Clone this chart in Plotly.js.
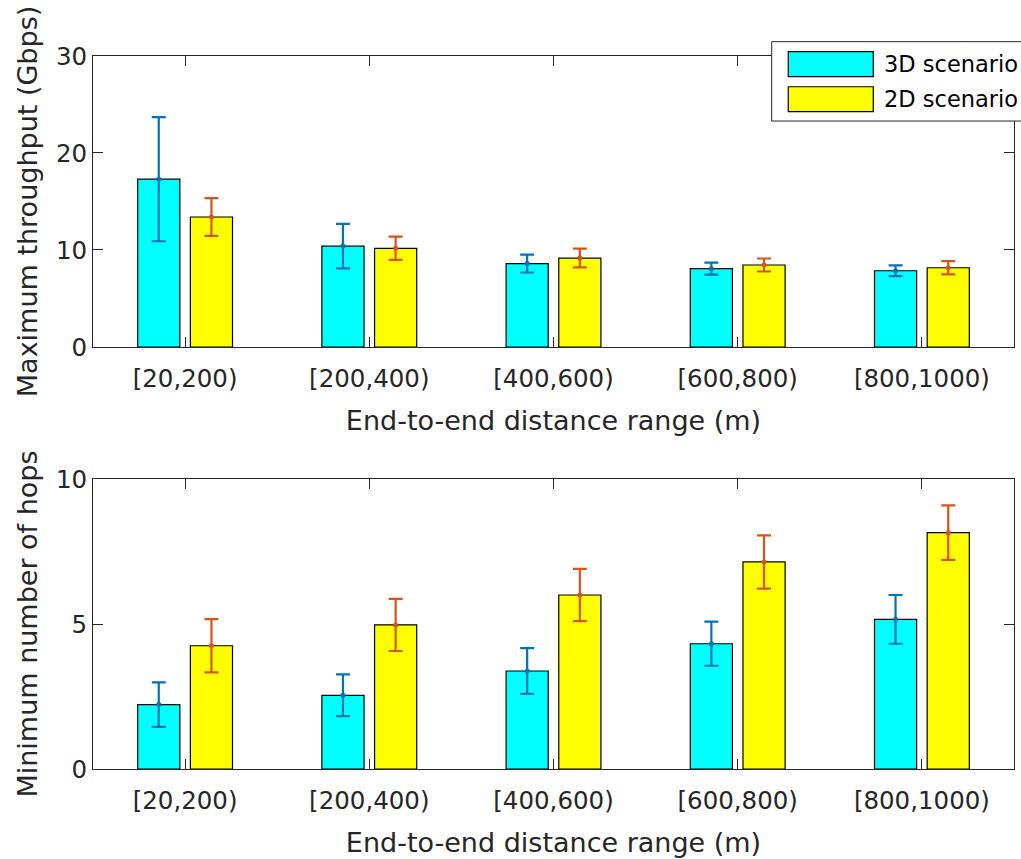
<!DOCTYPE html>
<html><head><meta charset="utf-8">
<script src="https://cdn.plot.ly/plotly-3.0.1.min.js"></script>
<style>html,body{margin:0;padding:0;background:#fff}</style>
</head><body><div id="chart" style="width:1021px;height:859px"></div>
<script>
const categories = ['[20,200)', '[200,400)', '[400,600)', '[600,800)', '[800,1000)'];
const seriesNames = ['3D scenario', '2D scenario'];
const throughput3D = [17.3, 10.4, 8.6, 8.07, 7.86];
const throughput3DErr = [6.4, 2.3, 0.92, 0.62, 0.55];
const throughput2D = [13.4, 10.17, 9.17, 8.45, 8.17];
const throughput2DErr = [1.95, 1.2, 0.97, 0.67, 0.68];
const hops3D = [2.22, 2.54, 3.38, 4.32, 5.16];
const hops3DErr = [0.77, 0.72, 0.79, 0.76, 0.84];
const hops2D = [4.25, 4.97, 6.0, 7.14, 8.15];
const hops2DErr = [0.92, 0.9, 0.9, 0.92, 0.94];
const xTitle = 'End-to-end distance range (m)';
const yTitleTop = 'Maximum throughput (Gbps)';
const yTitleBottom = 'Minimum number of hops';

const FONT = 'DejaVu Sans';
const INK = '#262626';
const fills = ['#00FFFF', '#FFFF00'];
const errColors = ['#0072BD', '#D95319'];

function barTrace(vals, errs, i, xa, ya) {
  return {
    type: 'bar', x: categories, y: vals, name: seriesNames[i],
    xaxis: xa, yaxis: ya, offsetgroup: String(i), showlegend: false,
    marker: {color: fills[i], line: {color: '#000', width: 1.2}},
    error_y: {type: 'data', array: errs, visible: true, color: errColors[i], thickness: 2.2, width: 7}
  };
}
function dotTrace(vals, i, xa, ya) {
  return {
    type: 'scatter', mode: 'markers', x: categories, y: vals, name: seriesNames[i],
    xaxis: xa, yaxis: ya, offsetgroup: String(i), showlegend: false,
    marker: {color: errColors[i], size: 5}, hoverinfo: 'skip'
  };
}

const data = [
  barTrace(throughput3D, throughput3DErr, 0, 'x', 'y'),
  barTrace(throughput2D, throughput2DErr, 1, 'x', 'y'),
  barTrace(hops3D, hops3DErr, 0, 'x2', 'y2'),
  barTrace(hops2D, hops2DErr, 1, 'x2', 'y2'),
  dotTrace(throughput3D, 0, 'x', 'y'),
  dotTrace(throughput2D, 1, 'x', 'y'),
  dotTrace(hops3D, 0, 'x2', 'y2'),
  dotTrace(hops2D, 1, 'x2', 'y2')
];

function xAxis(anchor) {
  return {
    anchor: anchor, domain: [0, 1], type: 'category', range: [-0.5, 4.5],
    showline: true, linecolor: INK, linewidth: 1, mirror: 'ticks',
    ticks: 'inside', ticklen: 10, tickwidth: 1, tickcolor: INK,
    ticklabelstandoff: 10,
    tickfont: {family: FONT, size: 24.5, color: INK},
    showgrid: false, zeroline: false,
    title: {text: xTitle, font: {family: FONT, size: 27, color: INK}, standoff: 18}
  };
}
function yAxis(anchor, domain, range, dtick, title) {
  return {
    anchor: anchor, domain: domain, range: range, dtick: dtick,
    showline: true, linecolor: INK, linewidth: 1, mirror: 'ticks',
    ticks: 'inside', ticklen: 10, tickwidth: 1, tickcolor: INK,
    tickfont: {family: FONT, size: 24.5, color: INK},
    showgrid: false, zeroline: false,
    title: {text: title, font: {family: FONT, size: 27, color: INK}, standoff: 10}
  };
}

// legend drawn as a MATLAB-style box (paper coordinates)
const legShapes = [
  {type: 'rect', xref: 'paper', yref: 'paper', x0: 0.7369, x1: 1.02, y0: 0.9088, y1: 1.0201,
   line: {color: INK, width: 1}, fillcolor: '#fff', layer: 'above'},
  {type: 'rect', xref: 'paper', yref: 'paper', x0: 0.7549, x1: 0.8472, y0: 0.9710, y1: 1.0060,
   line: {color: '#000', width: 1.2}, fillcolor: fills[0], layer: 'above'},
  {type: 'rect', xref: 'paper', yref: 'paper', x0: 0.7549, x1: 0.8472, y0: 0.9219, y1: 0.9569,
   line: {color: '#000', width: 1.2}, fillcolor: fills[1], layer: 'above'}
];
const legAnn = [
  {xref: 'paper', yref: 'paper', x: 0.8563, y: 0.9885, xanchor: 'left', yanchor: 'middle',
   text: seriesNames[0], showarrow: false, font: {family: FONT, size: 22.5, color: '#000'}},
  {xref: 'paper', yref: 'paper', x: 0.8563, y: 0.9394, xanchor: 'left', yanchor: 'middle',
   text: seriesNames[1], showarrow: false, font: {family: FONT, size: 22.5, color: '#000'}}
];

const layout = {
  width: 1021, height: 859,
  margin: {l: 93, r: 7, t: 56, b: 90},
  paper_bgcolor: '#fff', plot_bgcolor: '#fff',
  barmode: 'group', bargap: 0.428, bargroupgap: 0.2,
  scattermode: 'group', scattergap: 0.428,
  showlegend: false,
  xaxis: xAxis('y'),
  yaxis: yAxis('x', [0.5919, 1], [0, 30], 10, yTitleTop),
  xaxis2: xAxis('y2'),
  yaxis2: yAxis('x2', [0, 0.4067], [0, 10], 5, yTitleBottom),
  shapes: legShapes,
  annotations: legAnn
};

Plotly.newPlot('chart', data, layout, {displayModeBar: false, staticPlot: true});
</script></body></html>
